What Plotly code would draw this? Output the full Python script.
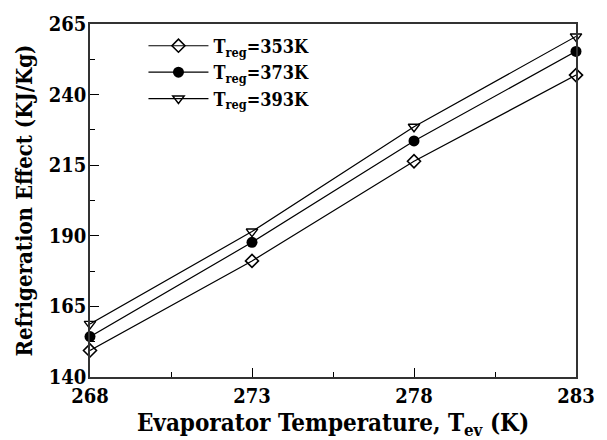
import plotly.graph_objects as go

t_ev = [268, 273, 278, 283]
re_353 = [149.4, 181.1, 216.4, 246.9]
re_373 = [154.3, 187.7, 223.6, 255.3]
re_393 = [158.8, 191.5, 228.6, 260.6]
series_names = ["T<sub>reg</sub>=353K", "T<sub>reg</sub>=373K", "T<sub>reg</sub>=393K"]
x_ticks = [268, 273, 278, 283]
y_ticks = [140, 165, 190, 215, 240, 265]

FONT = "DejaVu Serif Condensed"
fig = go.Figure()
styles = [
    dict(symbol="diamond-open", size=10, color="black", line=dict(width=1.6, color="black")),
    dict(symbol="circle", size=11, color="black", line=dict(width=0, color="black")),
    dict(symbol="triangle-down-open", size=10, color="black", line=dict(width=1.4, color="black")),
]
for name, ys, mk in zip(series_names, [re_353, re_373, re_393], styles):
    fig.add_trace(go.Scatter(
        x=t_ev, y=ys, mode="lines+markers", name="<b>" + name + "</b>",
        line=dict(color="black", width=1.2), marker=mk, cliponaxis=False,
    ))

fig.update_layout(
    width=607, height=440,
    margin=dict(l=90, r=30, t=18, b=63),
    paper_bgcolor="white", plot_bgcolor="white",
    font=dict(family=FONT, color="black"),
    legend=dict(x=0.11, y=0.99, xanchor="left", yanchor="top",
                font=dict(family=FONT, size=18, color="black"),
                bgcolor="rgba(0,0,0,0)", tracegroupgap=0, itemwidth=60),
    showlegend=True,
)
fig.update_xaxes(
    range=[268, 283], tickvals=x_ticks, ticktext=["<b>%d</b>" % v for v in x_ticks],
    ticks="inside", ticklen=9, tickwidth=1, tickcolor="black",
    minor=dict(ticks="inside", ticklen=5, tickwidth=1, tickcolor="black", dtick=2.5, tick0=268),
    showline=True, linecolor="#333", linewidth=1.5, mirror=True,
    showgrid=False, zeroline=False,
    tickfont=dict(family=FONT, size=20, color="black"),
    title=dict(text="<b>Evaporator Temperature, T<sub>ev</sub> (K)</b>",
               font=dict(family=FONT, size=24, color="black"), standoff=2),
)
fig.update_yaxes(
    range=[140, 265], tickvals=y_ticks, ticktext=["<b>%d</b>" % v for v in y_ticks],
    ticks="inside", ticklen=9, tickwidth=1, tickcolor="black",
    minor=dict(ticks="inside", ticklen=5, tickwidth=1, tickcolor="black", dtick=12.5, tick0=140),
    showline=True, linecolor="#333", linewidth=1.5, mirror=True,
    showgrid=False, zeroline=False, ticklabelstandoff=-2,
    tickfont=dict(family=FONT, size=20, color="black"),
    title=dict(text="<b>Refrigeration Effect (KJ/Kg)</b>",
               font=dict(family=FONT, size=22, color="black"), standoff=10),
)
fig.write_html("out.html")
